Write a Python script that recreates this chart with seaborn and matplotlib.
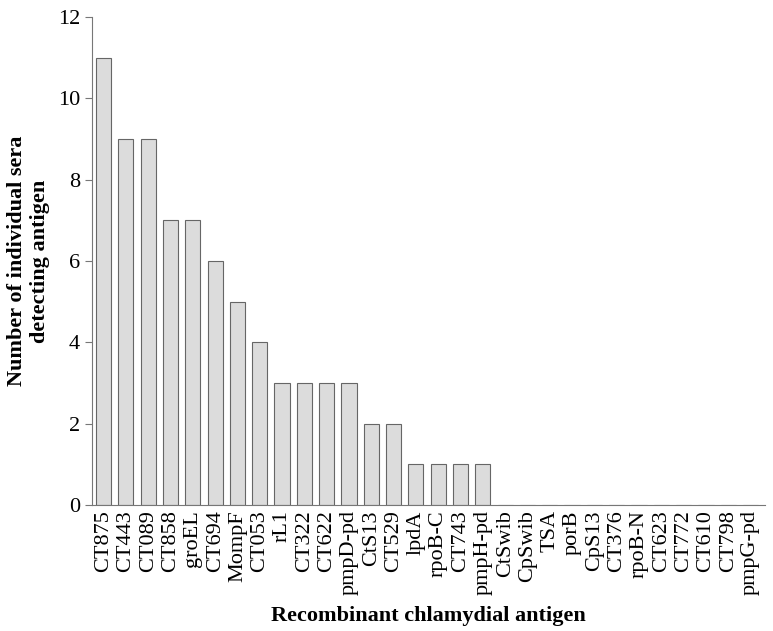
import pandas as pd
import matplotlib.pyplot as plt
import seaborn as sns

# Antigens and number of sera detecting each
antigens = ['CT875', 'CT443', 'CT089', 'CT858', 'groEL', 'CT694', 'MompF', 'CT053',
            'rL1', 'CT322', 'CT622', 'pmpD-pd', 'CtS13', 'CT529', 'lpdA', 'rpoB-C',
            'CT743', 'pmpH-pd', 'CtSwib', 'CpSwib', 'TSA', 'porB', 'CpS13', 'CT376',
            'rpoB-N', 'CT623', 'CT772', 'CT610', 'CT798', 'pmpG-pd']
counts = [11, 9, 9, 7, 7, 6, 5, 4, 3, 3, 3, 3, 2, 2, 1, 1, 1, 1,
          0, 0, 0, 0, 0, 0, 0, 0, 0, 0, 0, 0]
yticks = [0, 2, 4, 6, 8, 10, 12]

df = pd.DataFrame({'antigen': antigens, 'count': counts})

sns.set_style('ticks')
plt.rcParams['font.family'] = ['Liberation Serif', 'DejaVu Serif']
plt.rcParams['text.color'] = 'black'
plt.rcParams['axes.labelcolor'] = 'black'
plt.rcParams['xtick.labelcolor'] = 'black'
plt.rcParams['ytick.labelcolor'] = 'black'

fig = plt.figure(figsize=(7.73, 6.31), dpi=100)
ax = fig.add_axes([0.119, 0.2, 0.871, 0.773])

sns.barplot(data=df, x='antigen', y='count', color='#dcdcdc', edgecolor='#666666',
            linewidth=0.8, width=0.68, saturation=1, ax=ax)

ax.set_xlim(-0.52, 29.66)
ax.set_ylim(0, 12)
ax.set_yticks(yticks)
ax.tick_params(axis='y', labelsize=16, length=5, color='#777777', width=0.8)
ax.tick_params(axis='x', labelsize=16, rotation=90, length=0, pad=4)
sns.despine(ax=ax)
for s in ['left', 'bottom']:
    ax.spines[s].set_color('#777777')
    ax.spines[s].set_linewidth(0.8)

ax.set_xlabel('Recombinant chlamydial antigen', fontsize=16, fontweight='bold', labelpad=8)
ax.set_ylabel('Number of individual sera\ndetecting antigen', fontsize=16, fontweight='bold', labelpad=6)

fig.savefig('out.png', dpi=100)
